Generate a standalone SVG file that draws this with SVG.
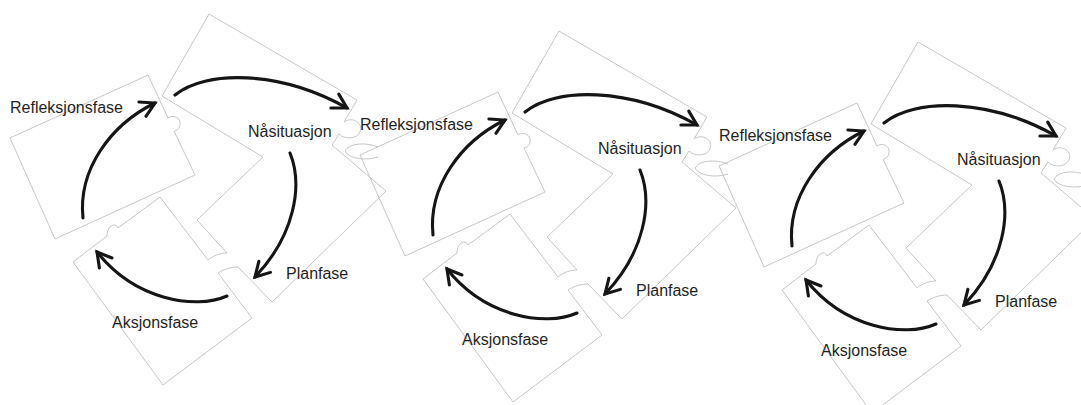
<svg xmlns="http://www.w3.org/2000/svg" width="1081" height="405" viewBox="0 0 1081 405">
  <defs>
    <style>
      .piece{fill:none;stroke:#bdbdbd;stroke-width:0.85;stroke-linejoin:round}
      .lbl{font-family:"Liberation Sans",Arial,sans-serif;font-size:16px;fill:#1f1f1f}
      .arc{fill:none;stroke:#151515;stroke-width:3.1;stroke-linecap:round;marker-end:url(#head)}
    </style>
    <!-- open chevron arrowhead -->
    <marker id="head" markerUnits="userSpaceOnUse" viewBox="0 0 20 20" markerWidth="20" markerHeight="20" refX="17" refY="10" orient="auto">
      <path d="M3,2 L17,10 L3,18" fill="none" stroke="#151515" stroke-width="3.1" stroke-linecap="round"/>
    </marker>
  </defs>
  <rect width="1081" height="405" fill="#ffffff"/>

  <!-- cycle 1 -->
  <g id="cycle-1">
    <g id="c1-refleksjonsfase">
      <path class="piece" d="M10,138 L148,75 L168,118 C173,114 181,118 180,124 C180,129 176,131 174,131 L195,175 L55,239 Z"/>
      <text class="lbl" x="10" y="113">Refleksjonsfase</text>
    </g>
    <g id="c1-nasituasjon">
      <path class="piece" d="M263,157 L162,96 L209,14 L357,100 L344,122 C352,116 364,123 360,132 C357,139 345,140 339,134 L332,145"/>
      <text class="lbl" x="248" y="137">Nåsituasjon</text>
    </g>
    <g id="c1-planfase">
      <path class="piece" d="M332,145 L386,191 L272,302 L238,267 M197,220 L263,157 M197,220 L227,253 M345,151 C349,143 366,142 378,147 M345,151 C349,159 366,161 378,157"/>
      <text class="lbl" x="286" y="279">Planfase</text>
    </g>
    <g id="c1-aksjonsfase">
      <path class="piece" d="M208,260 L160,197 L118,228 C116,222 107,225 107,236 L73,262 L163,385 L252,318 L218,273 M208,260 C214,255 221,253 227,253 M218,273 C224,269 232,267 238,267"/>
      <text class="lbl" x="112" y="328">Aksjonsfase</text>
    </g>
    <g id="c1-connectors">
      <path class="arc" d="M175,95 C205,70 280,70 347,108"/>
      <path class="arc" d="M290,153 C303,185 295,235 255,277"/>
      <path class="arc" d="M227,296 C195,310 135,300 97,252"/>
      <path class="arc" d="M83,218 C78,170 110,125 155,103"/>
    </g>
  </g>

  <!-- cycle 2 -->
  <g id="cycle-2" transform="translate(350,17)">
    <g id="c2-refleksjonsfase">
      <path class="piece" d="M10,138 L148,75 L168,118 C173,114 181,118 180,124 C180,129 176,131 174,131 L195,175 L55,239 Z"/>
      <text class="lbl" x="10" y="113">Refleksjonsfase</text>
    </g>
    <g id="c2-nasituasjon">
      <path class="piece" d="M263,157 L162,96 L209,14 L357,100 L344,122 C352,116 364,123 360,132 C357,139 345,140 339,134 L332,145"/>
      <text class="lbl" x="248" y="137">Nåsituasjon</text>
    </g>
    <g id="c2-planfase">
      <path class="piece" d="M332,145 L386,191 L272,302 L238,267 M197,220 L263,157 M197,220 L227,253 M345,151 C349,143 366,142 378,147 M345,151 C349,159 366,161 378,157"/>
      <text class="lbl" x="286" y="279">Planfase</text>
    </g>
    <g id="c2-aksjonsfase">
      <path class="piece" d="M208,260 L160,197 L118,228 C116,222 107,225 107,236 L73,262 L163,385 L252,318 L218,273 M208,260 C214,255 221,253 227,253 M218,273 C224,269 232,267 238,267"/>
      <text class="lbl" x="112" y="328">Aksjonsfase</text>
    </g>
    <g id="c2-connectors">
      <path class="arc" d="M175,95 C205,70 280,70 347,108"/>
      <path class="arc" d="M290,153 C303,185 295,235 255,277"/>
      <path class="arc" d="M227,296 C195,310 135,300 97,252"/>
      <path class="arc" d="M83,218 C78,170 110,125 155,103"/>
    </g>
  </g>

  <!-- cycle 3 -->
  <g id="cycle-3" transform="translate(709,28)">
    <g id="c3-refleksjonsfase">
      <path class="piece" d="M10,138 L148,75 L168,118 C173,114 181,118 180,124 C180,129 176,131 174,131 L195,175 L55,239 Z"/>
      <text class="lbl" x="10" y="113">Refleksjonsfase</text>
    </g>
    <g id="c3-nasituasjon">
      <path class="piece" d="M263,157 L162,96 L209,14 L357,100 L344,122 C352,116 364,123 360,132 C357,139 345,140 339,134 L332,145"/>
      <text class="lbl" x="248" y="137">Nåsituasjon</text>
    </g>
    <g id="c3-planfase">
      <path class="piece" d="M332,145 L386,191 L272,302 L238,267 M197,220 L263,157 M197,220 L227,253 M345,151 C349,143 366,142 378,147 M345,151 C349,159 366,161 378,157"/>
      <text class="lbl" x="286" y="279">Planfase</text>
    </g>
    <g id="c3-aksjonsfase">
      <path class="piece" d="M208,260 L160,197 L118,228 C116,222 107,225 107,236 L73,262 L163,385 L252,318 L218,273 M208,260 C214,255 221,253 227,253 M218,273 C224,269 232,267 238,267"/>
      <text class="lbl" x="112" y="328">Aksjonsfase</text>
    </g>
    <g id="c3-connectors">
      <path class="arc" d="M175,95 C205,70 280,70 347,108"/>
      <path class="arc" d="M290,153 C303,185 295,235 255,277"/>
      <path class="arc" d="M227,296 C195,310 135,300 97,252"/>
      <path class="arc" d="M83,218 C78,170 110,125 155,103"/>
    </g>
  </g>
</svg>
